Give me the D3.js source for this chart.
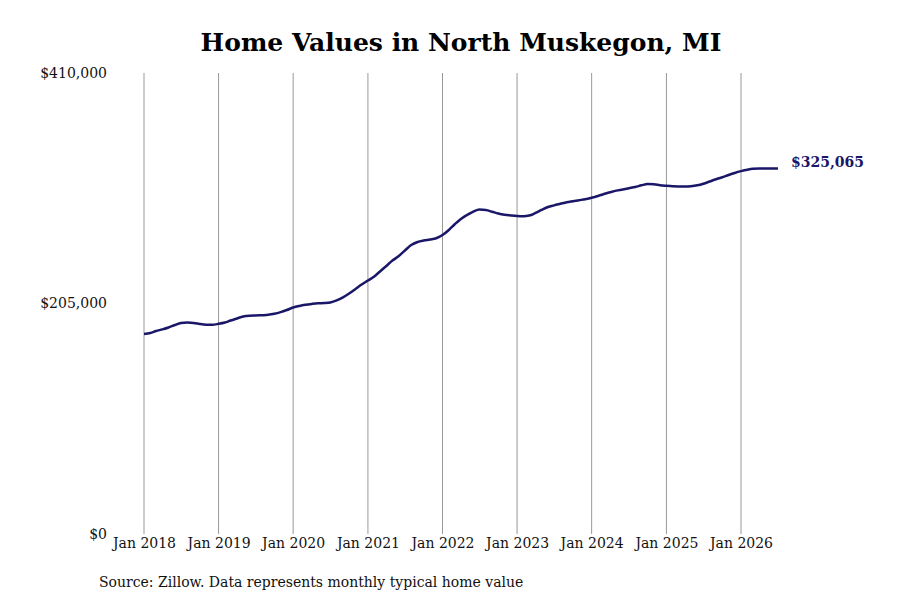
<!DOCTYPE html>
<html>
<head>
<meta charset="utf-8">
<script src="https://cdn.jsdelivr.net/npm/d3@7"></script>
<style>
  body { margin: 0; background: #fff; }
  text { font-family: "DejaVu Serif", serif; }
</style>
</head>
<body>
<div class="chart"></div>
<script>
// monthly typical home value, Jan 2018 onward
var startMonth = "2018-01";
var homeValues = [
  177900, 178800, 180500, 182000, 183700, 185900, 187700, 188000, 187700, 186800, 186200, 186100,
  186900, 188100, 189900, 191700, 193400, 194200, 194400, 194600, 194900, 195800, 197300, 199200,
  201400, 202800, 203800, 204600, 205200, 205400, 205900, 207700, 210500, 213900, 217900, 221900,
  225400, 229000, 233500, 238400, 243200, 247200, 252100, 257000, 259700, 261000, 261900, 263000,
  265900, 270400, 275300, 280200, 283700, 286800, 288600, 288200, 286600, 285000, 283900, 283300,
  282800, 282600, 283200, 285500, 288300, 290800, 292300, 293700, 295100, 296000, 296900, 297800,
  299000, 300600, 302400, 304000, 305400, 306400, 307500, 308600, 310100, 311300, 311100, 310200,
  309700, 309300, 309100, 309000, 309300, 310100, 311500, 313500, 315500, 317300, 319300, 321100,
  322700, 324000, 324800, 325050, 325080, 325070, 325065
];
var yTicks = [0, 205000, 410000];
var xTickYears = [2018, 2019, 2020, 2021, 2022, 2023, 2024, 2025, 2026];
var title = "Home Values in North Muskegon, MI";
var source = "Source: Zillow. Data represents monthly typical home value";

var parseMonth = d3.timeParse("%Y-%m");
var t0 = parseMonth(startMonth);
var data = homeValues.map(function(v, i) {
  return { date: d3.timeMonth.offset(t0, i), value: v };
});
var xTicks = xTickYears.map(function(y) { return new Date(y, 0, 1); });

var svg = d3.select(".chart").append("svg")
    .attr("width", 900)
    .attr("height", 600);

var x = d3.scaleTime()
    .domain([new Date(2018, 0, 1), new Date(2026, 0, 1)])
    .range([144, 741]);
var y = d3.scaleLinear()
    .domain([0, 410000])
    .range([534, 73]);

svg.append("text")
    .attr("x", 461)
    .attr("y", 51)
    .attr("text-anchor", "middle")
    .style("font-size", "25px")
    .style("font-weight", "bold")
    .text(title);

// vertical grid at each January
svg.selectAll(".grid")
    .data(xTicks)
    .enter().append("line")
    .attr("x1", function(d) { return x(d); })
    .attr("x2", function(d) { return x(d); })
    .attr("y1", y(410000))
    .attr("y2", y(0))
    .attr("stroke", "#999")
    .attr("stroke-width", 1);

var xAxis = svg.append("g")
    .attr("transform", "translate(0," + 534 + ")")
    .call(d3.axisBottom(x).tickValues(xTicks).tickSize(0).tickPadding(4)
      .tickFormat(d3.timeFormat("Jan %Y")));
xAxis.select(".domain").remove();
xAxis.selectAll("text")
    .style("font-family", "DejaVu Serif")
    .style("font-size", "14px")
    .attr("fill", "#111");

var yAxis = svg.append("g")
    .attr("transform", "translate(" + 107 + ",0)")
    .call(d3.axisLeft(y).tickValues(yTicks).tickSize(0).tickPadding(0)
      .tickFormat(function(d) { return "$" + d3.format(",")(d); }));
yAxis.select(".domain").remove();
yAxis.selectAll("text")
    .style("font-family", "DejaVu Serif")
    .style("font-size", "14px")
    .attr("fill", "#111");

var line = d3.line()
    .x(function(d) { return x(d.date); })
    .y(function(d) { return y(d.value); })
    .curve(d3.curveMonotoneX);

svg.append("path")
    .datum(data)
    .attr("d", line)
    .attr("fill", "none")
    .attr("stroke", "#1a1668")
    .attr("stroke-width", 2.5);

var last = data[data.length - 1];
svg.append("text")
    .attr("x", x(last.date) + 13)
    .attr("y", y(last.value) - 6)
    .attr("dy", "0.35em")
    .style("font-size", "14px")
    .style("font-weight", "bold")
    .attr("fill", "#1a1668")
    .text("$" + d3.format(",")(last.value));

svg.append("text")
    .attr("x", 99)
    .attr("y", 587)
    .style("font-size", "14px")
    .attr("fill", "#111")
    .text(source);
</script>
</body>
</html>
